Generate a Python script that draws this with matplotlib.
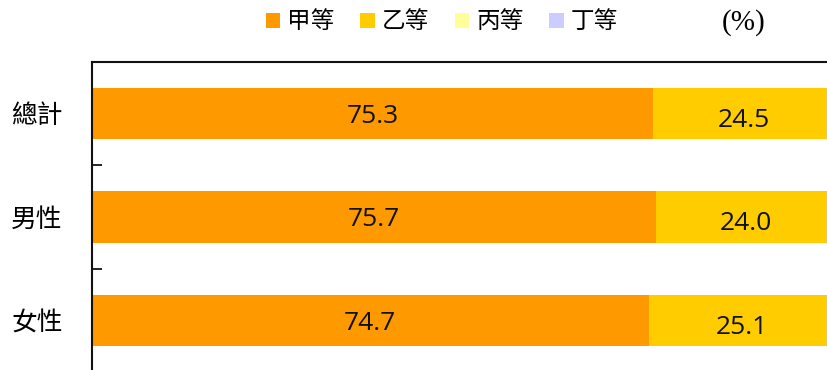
import matplotlib
matplotlib.use("Agg")
import matplotlib.pyplot as plt
from matplotlib.patches import Patch

plt.rcParams['font.family'] = ['Noto Sans CJK TC', 'DejaVu Sans']

categories = ['總計', '男性', '女性']
grades = ['甲等', '乙等', '丙等', '丁等']
values_a = [75.3, 75.7, 74.7]
values_b = [24.5, 24.0, 25.1]
values_c = [0.1, 0.2, 0.1]
values_d = [0.1, 0.1, 0.1]
series = [values_a, values_b, values_c, values_d]
colors = ['#FF9900', '#FFCC00', '#FFFF99', '#CCCCFF']
label_series = [0, 1]
label_drop_px = [3, 7]

W, H = 827, 370
fig = plt.figure(figsize=(W / 100, H / 100), dpi=100)
ax_top, ax_bot = 61.7, 372.2
ax = fig.add_axes([92 / W, (H - ax_bot) / H, 1 - 92 / W, (ax_bot - ax_top) / H])

y = list(range(len(categories)))
left = [0.0] * len(categories)
bars = []
for vals, col in zip(series, colors):
    ax.barh(y, vals, left=left, height=0.5, color=col, edgecolor='none')
    bars.append((vals, list(left)))
    left = [l + v for l, v in zip(left, vals)]

for si, drop in zip(label_series, label_drop_px):
    vals, lefts = bars[si]
    for yi, (v, l) in enumerate(zip(vals, lefts)):
        ax.annotate(f'{v:.1f}', xy=(l + v / 2, yi), xytext=(0, -drop * 0.72),
                    textcoords='offset points', ha='center', va='center',
                    fontsize=19, family=['Open Sans', 'DejaVu Sans'], color='#111111')

ax.set_xlim(0, 98.65)
ax.set_ylim(2.5, -0.5)
ax.set_yticks(y)
ax.set_yticklabels(categories, fontsize=18.5)
ax.tick_params(axis='y', which='major', length=0, pad=21)
ax.set_yticks([0.5, 1.5], minor=True)
ax.tick_params(axis='y', which='minor', direction='in', length=7, width=1.2, color='black')
ax.set_xticks([])
for s in ['right', 'bottom']:
    ax.spines[s].set_visible(False)
for s in ['left', 'top']:
    ax.spines[s].set_linewidth(1.5)
    ax.spines[s].set_color('#111111')

handles = [Patch(facecolor=c, edgecolor='none') for c in colors]
fig.legend(handles, grades, loc='center left', bbox_to_anchor=(266 / W, 1 - 22 / H),
           ncol=4, frameon=False, fontsize=17, handlelength=0.6, handleheight=0.6,
           handletextpad=0.3, columnspacing=1.1, borderpad=0, borderaxespad=0)
fig.text(744 / W, 1 - 23 / H, '(%)', ha='center', va='center', fontsize=21,
         family=['Liberation Serif', 'DejaVu Serif'])

fig.savefig('out.png', dpi=100)
